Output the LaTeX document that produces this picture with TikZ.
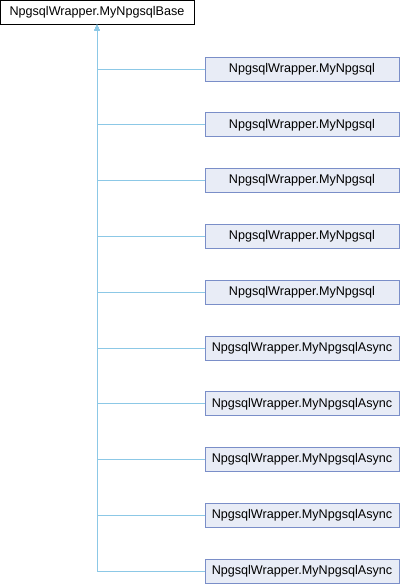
\documentclass[tikz,border=0pt]{standalone}
\usepackage{fontspec}
\setmainfont{Liberation Sans}
\usepackage{xcolor}
\usetikzlibrary{arrows.meta,positioning}
\definecolor{edgeblue}{RGB}{140,200,230}
\definecolor{boxfill}{RGB}{232,236,246}
\definecolor{boxline}{RGB}{122,142,200}

\begin{document}
\begin{tikzpicture}[x=1pt, y=-1pt, thick, font=\fontsize{12.6}{14}\selectfont]
\tikzstyle{every node} = [rectangle, inner sep=0pt, minimum width=194pt, minimum height=24pt]
\tikzset{base/.style={draw=black, line width=0.9pt, fill=white}}
\tikzset{child/.style={draw=boxline, line width=0.9pt, fill=boxfill}}
\tikzset{inherit/.style={draw=edgeblue, line width=0.9pt, {Triangle[width=5pt,length=6pt,fill=edgeblue]}-}}
\useasboundingbox (0,0) rectangle (400,584);
\node[base] (b) at (97,12) {NpgsqlWrapper.MyNpgsqlBase};
\foreach \i in {0,...,4}
\node[child] (c\i) at (302,{69+55.8*\i}) {NpgsqlWrapper.MyNpgsql};
\foreach \i in {5,...,9}
\node[child] (c\i) at (302,{69+55.8*\i}) {NpgsqlWrapper.MyNpgsqlAsync};
\foreach \i in {0,...,9}
\draw[inherit] (b.south) |- (c\i.west);
\end{tikzpicture}
\end{document}
